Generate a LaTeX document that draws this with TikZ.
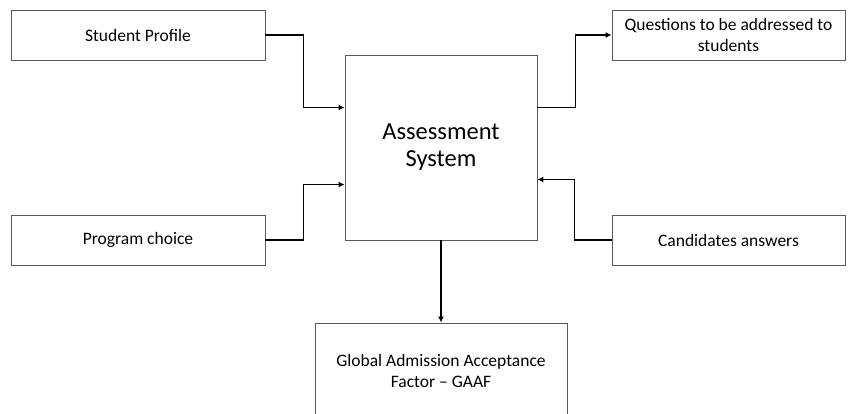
\documentclass[tikz,border=0pt]{standalone}
\usepackage{fontspec}
\setmainfont{Carlito}
\usepackage{tikz}
\usetikzlibrary{arrows.meta}
\tikzset{every picture/.style={x=1pt,y=-1pt},
  box/.style={draw=black!65, line width=0.9pt, fill=white, align=center, inner sep=0pt,
    font=\fontsize{17.5}{21}\selectfont},
  bigbox/.style={box, font=\fontsize{24.5}{27}\selectfont},
  flow/.style={line width=1.8pt, -{Latex[length=6pt,width=6pt]}}}

\begin{document}
\begin{tikzpicture}
  \clip (0,0) rectangle (856,414);

  \node[box, minimum width=254pt, minimum height=50pt] (sp) at (138,35){Student Profile};
  \node[box, minimum width=254pt, minimum height=50pt] (pc) at (138,240){Program choice};
  \node[bigbox, minimum width=192pt, minimum height=185pt] (as) at (441,147.5){Assessment\\System};
  \node[box, minimum width=233pt, minimum height=50pt] (qs) at (728.5,35){Questions to be addressed to\\students};
  \node[box, minimum width=233pt, minimum height=50pt] (ca) at (728.5,240){Candidates answers};
  \node[box, minimum width=252pt, minimum height=96pt] (gaaf) at (441,371){Global Admission Acceptance\\Factor -- GAAF};

  \draw[flow](sp.east) -- ++(38,0) |- ([yshift=40pt]as.west);
  \draw[flow](pc.east) -- ++(38,0) |- ([yshift=-37pt]as.west);
  \draw[flow]([yshift=40pt]as.east) -- ++(38,0) |- (qs.west);
  \draw[flow](ca.west) -- ++(-37,0) |- ([yshift=-32pt]as.east);
  \draw[flow](as.south) -- (gaaf.north);
\end{tikzpicture}
\end{document}
